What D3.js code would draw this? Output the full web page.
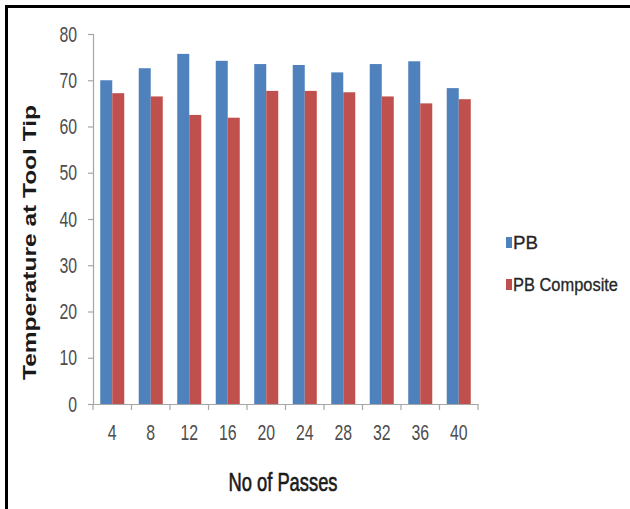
<!DOCTYPE html>
<html>
<head>
<meta charset="utf-8">
<script src="https://cdn.jsdelivr.net/npm/d3@7"></script>
<style>
  html, body { margin: 0; padding: 0; background: #fff; }
  svg { display: block; }
</style>
</head>
<body>
<svg id="chart" width="630" height="509"></svg>
<script>
// Tool-tip temperature for each number of passes
const passes = ["4", "8", "12", "16", "20", "24", "28", "32", "36", "40"];
const pbValues = [70.0, 72.6, 75.7, 74.2, 73.5, 73.3, 71.7, 73.5, 74.1, 68.3];
const compositeValues = [67.2, 66.5, 62.5, 61.9, 67.7, 67.7, 67.4, 66.5, 65.0, 65.9];
const seriesNames = ["PB", "PB Composite"];
const seriesColors = ["#4F81BD", "#C0504D"];
const yTicks = [0, 10, 20, 30, 40, 50, 60, 70, 80];

const sans = "'Liberation Sans', Arial, sans-serif";

const svg = d3.select("#chart");

// frame lines on the left and top edges
svg.append("path")
  .attr("d", "M6.5,509V6.5H630")
  .attr("fill", "none")
  .attr("stroke", "#000")
  .attr("stroke-width", 3);

const plot = { left: 93, right: 478, top: 34, bottom: 404 };

const x = d3.scaleBand()
  .domain(passes)
  .range([plot.left, plot.right])
  .paddingInner(0.376)
  .paddingOuter(0.188);

const xInner = d3.scaleBand()
  .domain(seriesNames)
  .range([0, x.bandwidth()]);

const y = d3.scaleLinear()
  .domain([0, 80])
  .range([plot.bottom, plot.top]);

const rows = passes.map((p, i) => ({ pass: p, values: [pbValues[i], compositeValues[i]] }));

// bars
const groups = svg.append("g").selectAll("g")
  .data(rows)
  .join("g")
  .attr("transform", d => `translate(${x(d.pass)},0)`);

groups.selectAll("rect")
  .data(d => d.values.map((v, k) => ({ name: seriesNames[k], value: v, k })))
  .join("rect")
  .attr("x", d => xInner(d.name))
  .attr("width", xInner.bandwidth())
  .attr("y", d => y(d.value))
  .attr("height", d => y(0) - y(d.value))
  .attr("fill", d => seriesColors[d.k]);

// y axis
const yAxis = svg.append("g")
  .attr("transform", `translate(${plot.left},0)`)
  .call(d3.axisLeft(y).tickValues(yTicks).tickSize(5).tickPadding(11).tickFormat(d3.format("d")));

// x axis: ticks sit on the category boundaries
const xAxisG = svg.append("g")
  .attr("transform", `translate(0,${plot.bottom})`)
  .call(d3.axisBottom(x).tickSize(0).tickPadding(20));

const step = x.step();
const boundaries = d3.range(passes.length + 1).map(i => plot.left + i * step);
xAxisG.selectAll("line.boundary")
  .data(boundaries)
  .join("line")
  .attr("class", "boundary")
  .attr("x1", d => d).attr("x2", d => d)
  .attr("y1", 0).attr("y2", 6);

// condensed digits: tall glyphs squeezed to a narrow advance
[yAxis, xAxisG].forEach(g => {
  g.select(".domain").attr("stroke", "#a6a6a6").attr("stroke-width", 1.2);
  g.selectAll("line").attr("stroke", "#a6a6a6").attr("stroke-width", 1.2);
  g.selectAll("text")
    .attr("font-family", sans)
    .attr("font-size", 22)
    .attr("fill", "#4d4d4d")
    .attr("textLength", function () { return this.textContent.length * 8.8; })
    .attr("lengthAdjust", "spacingAndGlyphs");
});

// axis titles
svg.append("text")
  .attr("transform", "translate(36,242.5) rotate(-90)")
  .attr("text-anchor", "middle")
  .attr("font-family", sans)
  .attr("font-weight", "bold")
  .attr("font-size", 18)
  .attr("fill", "#1a1a1a")
  .attr("textLength", 275)
  .attr("lengthAdjust", "spacingAndGlyphs")
  .text("Temperature at Tool Tip");

svg.append("text")
  .attr("x", 283)
  .attr("y", 491)
  .attr("text-anchor", "middle")
  .attr("font-family", sans)
  .attr("font-size", 25)
  .attr("fill", "#1a1a1a")
  .attr("stroke", "#1a1a1a")
  .attr("stroke-width", 0.6)
  .attr("textLength", 109)
  .attr("lengthAdjust", "spacingAndGlyphs")
  .text("No of Passes");

// legend
const legendTop = [237, 279];
const legendWidths = [25, 105];
seriesNames.forEach((name, i) => {
  const row = svg.append("g").attr("transform", `translate(0,${legendTop[i]})`);
  row.append("rect")
    .attr("x", 506).attr("y", 0)
    .attr("width", 6).attr("height", 11)
    .attr("fill", seriesColors[i]);
  row.append("text")
    .attr("x", 513)
    .attr("y", 12)
    .attr("font-family", sans)
    .attr("font-size", 18)
    .attr("fill", "#262626")
    .attr("stroke", "#262626")
    .attr("stroke-width", 0.3)
    .attr("textLength", legendWidths[i])
    .attr("lengthAdjust", "spacingAndGlyphs")
    .text(name);
});
</script>
</body>
</html>
